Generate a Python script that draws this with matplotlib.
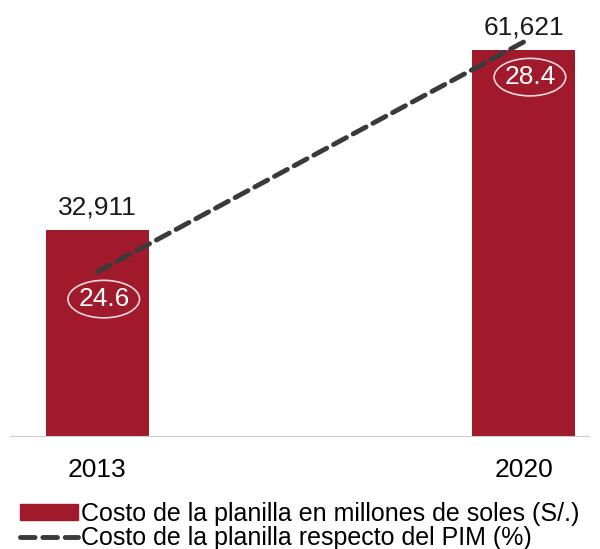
import matplotlib.pyplot as plt
from matplotlib.patches import Ellipse
from matplotlib.lines import Line2D
from matplotlib.patches import Patch

plt.rcParams['font.family'] = ['Liberation Sans', 'DejaVu Sans']

years = ['2013', '2020']
costo = [32911, 61621]
pct_pim = [24.6, 28.4]

bar_color = '#A01A2C'
line_color = '#3a3a3a'
fs = 19

fig = plt.figure(figsize=(6, 5.49), dpi=100)
ax = fig.add_axes([10 / 600, 1 - 437 / 549, 580 / 600, 427 / 549])
x = [0, 1]
ax.bar(x, costo, width=0.24, color=bar_color, zorder=2)
ax.set_xlim(-0.205, 1.156)
ax.set_ylim(0, 68000)
ax.axhline(0, color='#cccccc', lw=1.5, zorder=3)
for xi, v in zip(x, costo):
    ax.text(xi, v + 1700, f'{v:,}', ha='center', va='bottom', fontsize=fs, color='#1a1a1a')

ax2 = ax.twinx()
ax2.set_ylim(21.87, 28.93)
dash = (0, (3, 1.6))
ax2.plot(x, pct_pim, ls=dash, lw=3.5, color=line_color, zorder=4, dash_capstyle='round')
for xi, p, off in zip(x, pct_pim, [0.45, 0.58]):
    ax2.text(xi + 0.015, p - off, f'{p}', ha='center', va='center', fontsize=fs,
             color='white', zorder=5)
    ax2.add_patch(Ellipse((xi + 0.015, p - off), 0.168, 0.62, fill=False,
                          ec='#f0d8dc', lw=1.2, zorder=5))

for a in (ax, ax2):
    a.set_yticks([])
    for s in a.spines.values():
        s.set_visible(False)
ax.set_xticks(x)
ax.set_xticklabels(years, fontsize=fs)
ax.tick_params(axis='x', length=0, pad=15)

handles = [Patch(color=bar_color),
           Line2D([0], [0], color=line_color, lw=3.5, ls=dash, dash_capstyle='round')]
labels = ['Costo de la planilla en millones de soles (S/.)',
          'Costo de la planilla respecto del PIM (%)']
fig.legend(handles, labels, loc='upper left', bbox_to_anchor=(20 / 600, 1 - 502 / 549),
           frameon=False, fontsize=18, handlelength=2.3, handleheight=0.6,
           handletextpad=0.15, labelspacing=0.0, borderaxespad=0, borderpad=0)

fig.savefig('out.png', dpi=100)
